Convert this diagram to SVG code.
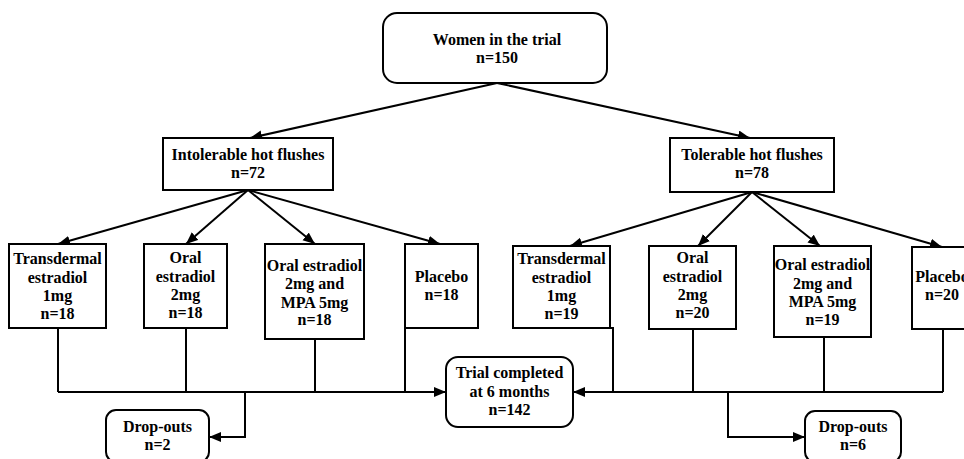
<svg xmlns="http://www.w3.org/2000/svg" width="964" height="459" viewBox="0 0 964 459">
<style>
.box{fill:#fff;stroke:#000;stroke-width:2}
.t{font-family:'Liberation Serif','DejaVu Serif',serif;font-size:16px;font-weight:bold;text-anchor:middle;fill:#000}
.c{fill:none;stroke:#000;stroke-width:2}
.ca{fill:none;stroke:#000;stroke-width:2;marker-end:url(#ah)}
</style>
<defs>
<marker id="ah" markerUnits="userSpaceOnUse" markerWidth="13" markerHeight="11" refX="12" refY="5" orient="auto">
<path d="M0,0 L12,5 L0,10 z" fill="#000"/>
</marker>
</defs>
<rect width="964" height="459" fill="#fff"/>
<g id="connectors">
<path class="ca" d="M497,83 L250,138"/>
<path class="ca" d="M497,83 L750,138"/>
<path class="ca" d="M248,190 L58,244"/>
<path class="ca" d="M248,190 L186,244"/>
<path class="ca" d="M248,190 L315,244"/>
<path class="ca" d="M248,190 L440,244"/>
<path class="ca" d="M752,192 L570,246"/>
<path class="ca" d="M752,192 L698,246"/>
<path class="ca" d="M752,192 L820,246"/>
<path class="ca" d="M752,192 L942,247"/>
<path class="c" d="M58,328 V392"/>
<path class="c" d="M186,328 V392"/>
<path class="c" d="M315,339 V392"/>
<path class="c" d="M405,328 V392"/>
<path class="ca" d="M58,392 H446"/>
<path class="c" d="M610,328 H613 V392"/>
<path class="c" d="M693,329 V392"/>
<path class="c" d="M824,337 V392"/>
<path class="c" d="M943,329 V392"/>
<path class="ca" d="M943,392 H573"/>
<path class="ca" d="M245,392 V437 H209"/>
<path class="ca" d="M728,392 V437 H805"/>
</g>
<g id="women">
<rect class="box" x="383" y="13" width="224" height="70" rx="14"/>
<text class="t" x="497" y="45">Women in the trial</text>
<text class="t" x="497" y="63">n=150</text>
</g>
<g id="intolerable">
<rect class="box" x="163" y="138" width="170" height="52"/>
<text class="t" x="248" y="160">Intolerable hot flushes</text>
<text class="t" x="248" y="178">n=72</text>
</g>
<g id="tolerable">
<rect class="box" x="670" y="138" width="164" height="54"/>
<text class="t" x="752" y="160">Tolerable hot flushes</text>
<text class="t" x="752" y="178">n=78</text>
</g>
<g id="i-transdermal">
<rect class="box" x="9" y="244" width="97" height="84"/>
<text class="t" x="57.5" y="264">Transdermal</text>
<text class="t" x="57.5" y="282.5">estradiol</text>
<text class="t" x="57.5" y="301">1mg</text>
<text class="t" x="57.5" y="319">n=18</text>
</g>
<g id="i-oral">
<rect class="box" x="144" y="244" width="83" height="84"/>
<text class="t" x="185.5" y="263">Oral</text>
<text class="t" x="185.5" y="281.5">estradiol</text>
<text class="t" x="185.5" y="300">2mg</text>
<text class="t" x="185.5" y="318">n=18</text>
</g>
<g id="i-oralmpa">
<rect class="box" x="265" y="244" width="99" height="95"/>
<text class="t" x="314.5" y="271">Oral estradiol</text>
<text class="t" x="314.5" y="289">2mg and</text>
<text class="t" x="314.5" y="307.5">MPA 5mg</text>
<text class="t" x="314.5" y="325">n=18</text>
</g>
<g id="i-placebo">
<rect class="box" x="405" y="244" width="73" height="84"/>
<text class="t" x="441.5" y="282">Placebo</text>
<text class="t" x="441.5" y="300">n=18</text>
</g>
<g id="t-transdermal">
<rect class="box" x="513" y="246" width="97" height="82"/>
<text class="t" x="561.5" y="264">Transdermal</text>
<text class="t" x="561.5" y="282.5">estradiol</text>
<text class="t" x="561.5" y="301">1mg</text>
<text class="t" x="561.5" y="319">n=19</text>
</g>
<g id="t-oral">
<rect class="box" x="649" y="246" width="87" height="83"/>
<text class="t" x="692.5" y="263">Oral</text>
<text class="t" x="692.5" y="281.5">estradiol</text>
<text class="t" x="692.5" y="300">2mg</text>
<text class="t" x="692.5" y="318">n=20</text>
</g>
<g id="t-oralmpa">
<rect class="box" x="774" y="246" width="97" height="91"/>
<text class="t" x="822.5" y="270">Oral estradiol</text>
<text class="t" x="822.5" y="288.5">2mg and</text>
<text class="t" x="822.5" y="307">MPA 5mg</text>
<text class="t" x="822.5" y="325">n=19</text>
</g>
<g id="t-placebo">
<rect class="box" x="912" y="247" width="66" height="82"/>
<text class="t" x="942" y="282">Placebo</text>
<text class="t" x="942" y="300">n=20</text>
</g>
<g id="completed">
<rect class="box" x="446" y="357" width="127" height="70" rx="12"/>
<text class="t" x="509.5" y="378">Trial completed</text>
<text class="t" x="509.5" y="397">at 6 months</text>
<text class="t" x="509.5" y="415">n=142</text>
</g>
<g id="dropouts-left">
<rect class="box" x="106" y="410" width="103" height="52" rx="10"/>
<text class="t" x="157.5" y="432">Drop-outs</text>
<text class="t" x="157.5" y="450">n=2</text>
</g>
<g id="dropouts-right">
<rect class="box" x="805" y="411" width="96" height="51" rx="10"/>
<text class="t" x="853" y="432">Drop-outs</text>
<text class="t" x="853" y="450">n=6</text>
</g>
</svg>
